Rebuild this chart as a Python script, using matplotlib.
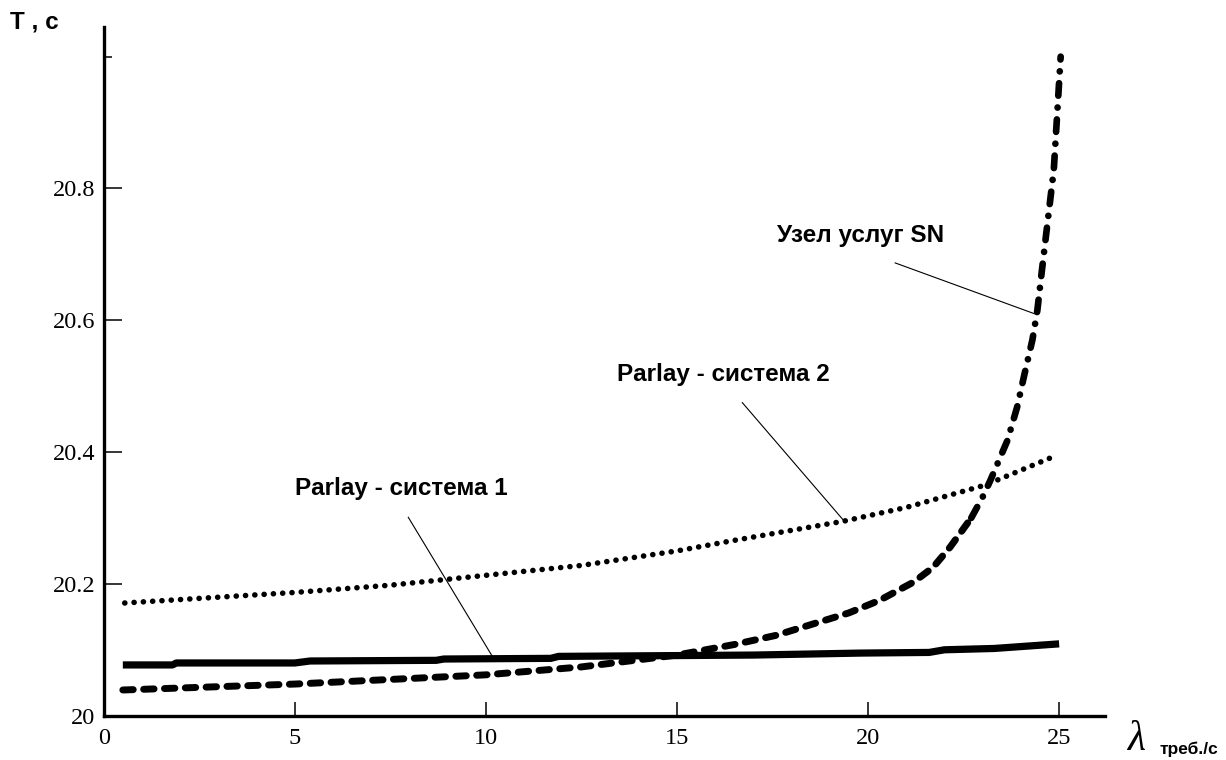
import matplotlib
matplotlib.use("Agg")
from matplotlib import pyplot as plt

plt.rcParams["lines.scale_dashes"] = False

# Parlay - система 1 (solid)
p1_x = [0.5, 1.8, 1.9, 5.0, 5.4, 8.7, 8.9, 11.7, 11.9, 17.0, 19.8, 21.6, 22.0, 23.3, 25.0]
p1_y = [20.077, 20.077, 20.080, 20.080, 20.083, 20.084, 20.086, 20.087, 20.090,
        20.092, 20.095, 20.096, 20.100, 20.102, 20.109]

# Parlay - система 2 (dotted)
p2_x = [0.55, 2.5, 5, 7.5, 10, 12.5, 15, 16.4, 19.35, 21, 23.07, 24.85]
p2_y = [20.171, 20.178, 20.187, 20.198, 20.213, 20.228, 20.250, 20.265, 20.295,
        20.316, 20.350, 20.393]

# Узел услуг SN (dashed, then dash-dot)
sn_x = [0.5, 2.5, 5, 7.5, 10, 12.5, 15, 16.5, 17.6, 19.5, 20.3, 21.2, 21.7, 22.15,
        22.7, 23.0, 23.2, 23.65, 23.9, 24.1, 24.3, 24.43, 24.55, 24.7, 24.86, 25.04]
sn_y = [20.039, 20.043, 20.048, 20.055, 20.062, 20.074, 20.092, 20.108, 20.122,
        20.156, 20.175, 20.203, 20.225, 20.256, 20.300, 20.332, 20.357, 20.418,
        20.468, 20.52, 20.57, 20.615, 20.676, 20.75, 20.828, 21.0]
sn_split = 14  # index where dashed turns into dash-dot (x = 22.7)

x_ticks = [0, 5, 10, 15, 20, 25]
y_ticks = [20.0, 20.2, 20.4, 20.6, 20.8]
y_labels = ["20", "20.2", "20.4", "20.6", "20.8"]

serif = "Liberation Serif"
sans = "Liberation Sans"

fig = plt.figure(figsize=(12.26, 7.6), dpi=100)
ax = fig.add_axes([0.0846, 0.0583, 0.8167, 0.9062])

ax.plot(p1_x, p1_y, color="black", lw=5.2, solid_capstyle="butt")
ax.plot(p2_x, p2_y, color="black", lw=4.0, linestyle=(0, (0.1, 6.6)),
        dash_capstyle="round")
ax.plot(sn_x[:sn_split + 1], sn_y[:sn_split + 1], color="black", lw=5.0,
        linestyle=(0, (7.5, 7.5)), dash_capstyle="round")
ax.plot(sn_x[sn_split:], sn_y[sn_split:], color="black", lw=4.8,
        linestyle=(0, (9, 8.5, 0.1, 8.5)), dash_capstyle="round")

ax.set_xlim(0, 26.2)
ax.set_ylim(20, 21.045)

for s in ["top", "right"]:
    ax.spines[s].set_visible(False)
for s in ["left", "bottom"]:
    ax.spines[s].set_linewidth(2.4)

ax.set_xticks(x_ticks)
ax.set_xticklabels([str(v) for v in x_ticks], fontfamily=serif, fontsize=17.5)
ax.set_yticks(y_ticks)
ax.set_yticklabels(y_labels, fontfamily=serif, fontsize=17.5)
ax.set_yticks([21.0], minor=True)
ax.tick_params(axis="x", direction="in", length=10, width=1.1, pad=9)
ax.tick_params(axis="y", direction="in", length=13, width=1.1, pad=6)
ax.tick_params(axis="y", which="minor", direction="in", length=6, width=1.1)

# labels with leader lines
notes = [
    ("Узел услуг SN", (17.63, 20.729), (20.71, 20.687), (24.35, 20.61)),
    ("Parlay - система 2", (13.44, 20.517), (16.71, 20.475), (19.35, 20.297)),
    ("Parlay - система 1", (5.0, 20.345), (7.97, 20.301), (10.19, 20.088)),
]
for txt, pos, a, b in notes:
    ax.text(pos[0], pos[1], txt, fontfamily=sans, fontweight="bold",
            fontsize=17.5, va="center", ha="left")
    ax.plot([a[0], b[0]], [a[1], b[1]], color="black", lw=0.8)

fig.text(10 / 1226, 1 - 22 / 760, "T , c", fontfamily=sans, fontweight="bold",
         fontsize=17.5, va="center", ha="left")
fig.text(1136 / 1226, 1 - 740 / 760, "λ", fontfamily=serif, style="italic",
         fontsize=30, va="center", ha="center")
fig.text(1160 / 1226, 1 - 749 / 760, "треб./с", fontfamily=sans,
         fontweight="bold", fontsize=12.5, va="center", ha="left")

fig.savefig("out.png", dpi=100)
